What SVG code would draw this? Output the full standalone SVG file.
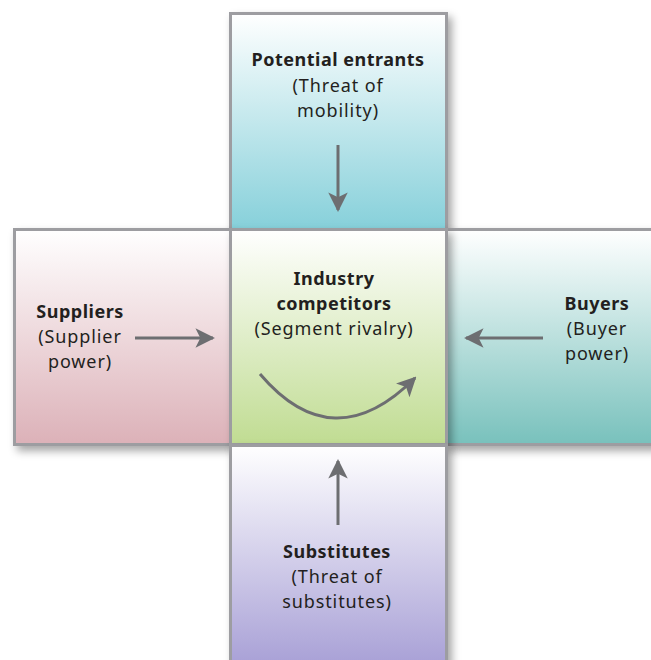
<svg xmlns="http://www.w3.org/2000/svg" width="651" height="660" viewBox="0 0 651 660">
<style>
.box{stroke:#9d9da1;stroke-width:3;filter:url(#sh)}
.t{font-family:"Noto Sans","DejaVu Sans",sans-serif;font-size:18px;fill:#231f20;text-anchor:middle;letter-spacing:0.9px}
.b{font-weight:bold;letter-spacing:0.5px}
.ar{stroke:#6d6e71;stroke-width:3;fill:none}
</style>
<defs>
<filter id="sh" x="-10%" y="-10%" width="125%" height="125%">
<feDropShadow dx="4" dy="5" stdDeviation="4" flood-color="#000" flood-opacity="0.35"/>
</filter>
<linearGradient id="gTop" x1="0" y1="0" x2="0" y2="1">
<stop offset="0" stop-color="#ffffff"/><stop offset="1" stop-color="#86d0da"/></linearGradient>
<linearGradient id="gLeft" x1="0" y1="0" x2="0" y2="1">
<stop offset="0" stop-color="#ffffff"/><stop offset="1" stop-color="#dcb1b8"/></linearGradient>
<linearGradient id="gMid" x1="0" y1="0" x2="0" y2="1">
<stop offset="0" stop-color="#ffffff"/><stop offset="1" stop-color="#c0dc92"/></linearGradient>
<linearGradient id="gRight" x1="0" y1="0" x2="0" y2="1">
<stop offset="0" stop-color="#ffffff"/><stop offset="1" stop-color="#78c1bc"/></linearGradient>
<linearGradient id="gBot" x1="0" y1="0" x2="0" y2="1">
<stop offset="0" stop-color="#ffffff"/><stop offset="1" stop-color="#a8a0d6"/></linearGradient>
<marker id="ah" viewBox="0 0 10 10" refX="9" refY="5" markerWidth="6.5" markerHeight="6.5" orient="auto" markerUnits="strokeWidth">
<path d="M0,0 L10,5 L0,10 L2.5,5 Z" fill="#6d6e71"/>
</marker>
</defs>
<rect width="651" height="660" fill="#ffffff"/>
<g id="potential-entrants">
<rect class="box" x="230.5" y="13.5" width="216" height="216" fill="url(#gTop)"/>
<text class="t b" x="338" y="66">Potential entrants</text>
<text class="t" x="338" y="92">(Threat of</text>
<text class="t" x="338" y="117">mobility)</text>
</g>
<g id="suppliers">
<rect class="box" x="14.5" y="229.5" width="216" height="215" fill="url(#gLeft)"/>
<text class="t b" x="80" y="318">Suppliers</text>
<text class="t" x="80" y="343">(Supplier</text>
<text class="t" x="80" y="368">power)</text>
</g>
<g id="buyers">
<rect class="box" x="446.5" y="229.5" width="220" height="215" fill="url(#gRight)"/>
<text class="t b" x="597" y="310">Buyers</text>
<text class="t" x="597" y="335">(Buyer</text>
<text class="t" x="597" y="360">power)</text>
</g>
<g id="industry-competitors">
<rect class="box" x="230.5" y="229.5" width="216" height="215" fill="url(#gMid)"/>
<text class="t b" x="334" y="285">Industry</text>
<text class="t b" x="334" y="310">competitors</text>
<text class="t" x="334" y="335">(Segment rivalry)</text>
</g>
<g id="substitutes">
<rect class="box" x="230.5" y="445.5" width="216" height="220" fill="url(#gBot)"/>
<text class="t b" x="337" y="558">Substitutes</text>
<text class="t" x="337" y="583">(Threat of</text>
<text class="t" x="337" y="608">substitutes)</text>
</g>
<g id="connectors">
<line class="ar" x1="338" y1="145" x2="338" y2="210" marker-end="url(#ah)"/>
<line class="ar" x1="135" y1="338" x2="213" y2="338" marker-end="url(#ah)"/>
<line class="ar" x1="543" y1="338" x2="466" y2="338" marker-end="url(#ah)"/>
<line class="ar" x1="338" y1="525" x2="338" y2="461" marker-end="url(#ah)"/>
<path class="ar" d="M260,374 Q333,460 415,378" marker-end="url(#ah)"/>
</g>
</svg>
